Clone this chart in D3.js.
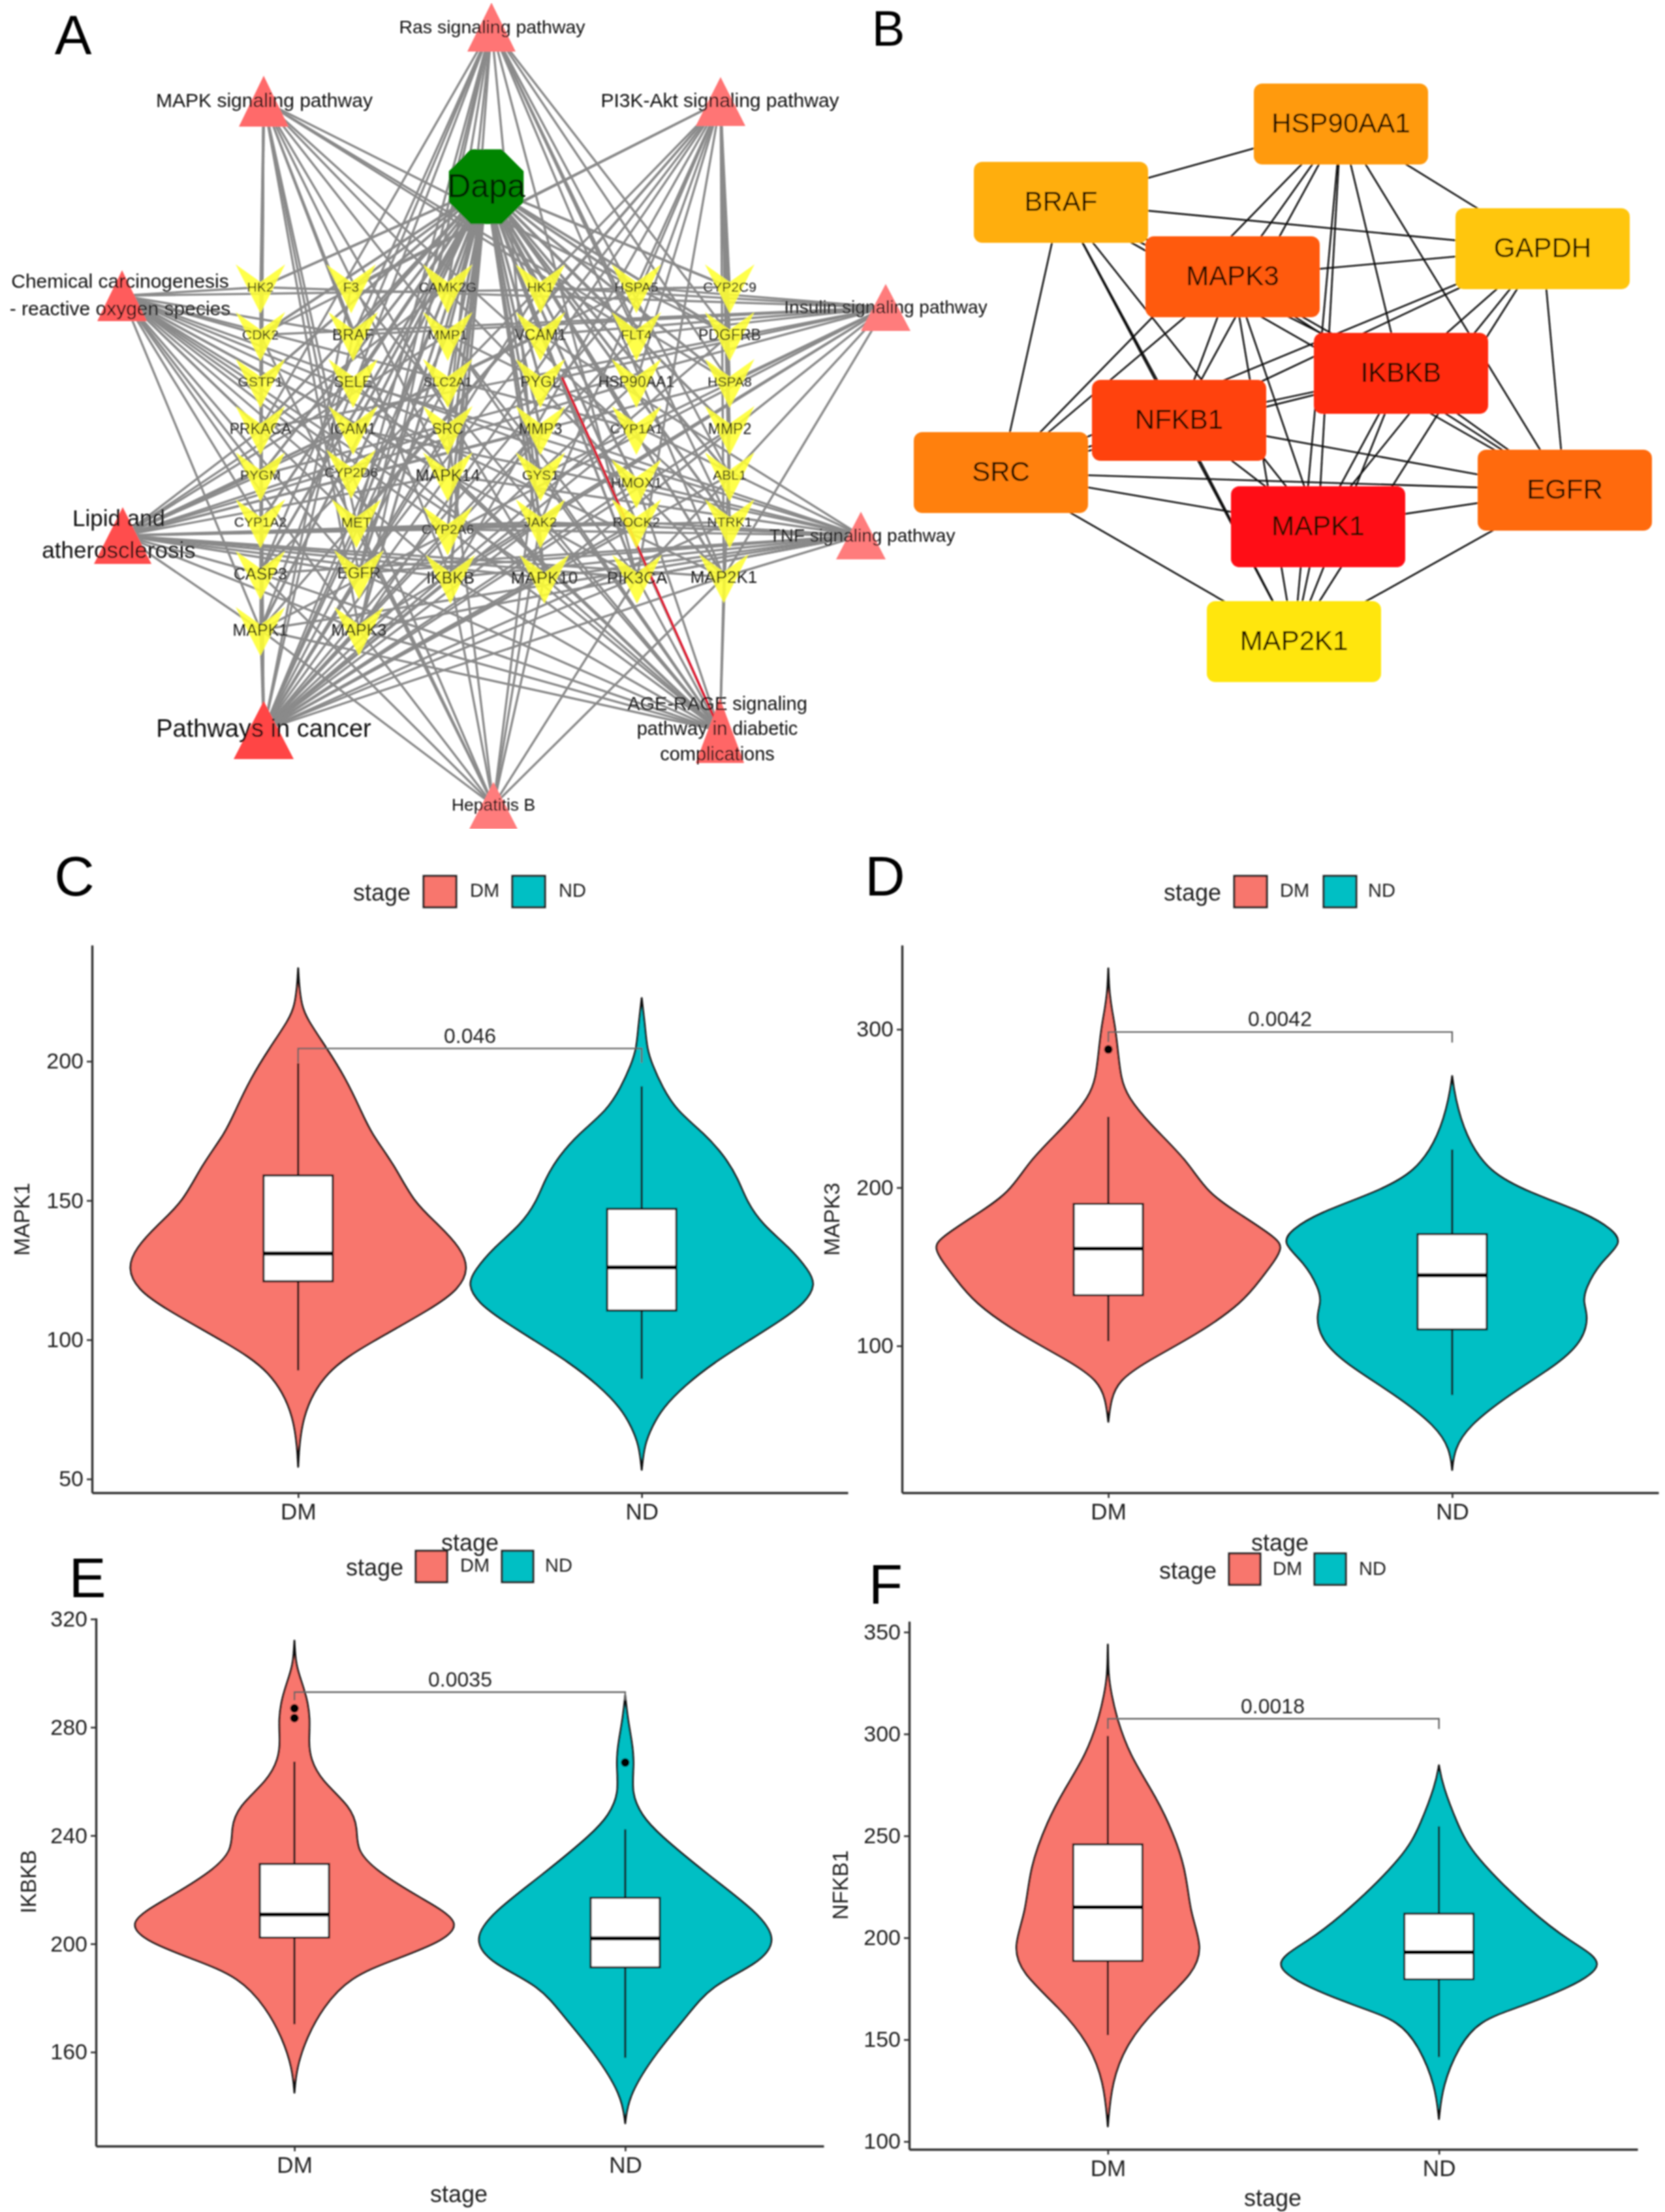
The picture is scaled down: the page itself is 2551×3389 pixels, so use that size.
<!DOCTYPE html>
<html><head><meta charset="utf-8">
<script src="https://cdn.jsdelivr.net/npm/d3@7"></script>
<style>html,body{margin:0;background:#fff}svg{display:block}text{font-family:"Liberation Sans",Arial,sans-serif}</style>
</head><body><div id="c"></div>
<script>
// ---------- DATA: panel A ----------
const geneNames = ["HK2","CDK2","GSTP1","PRKACA","PYGM","CYP1A2","CASP3","MAPK1",
  "F3","BRAF","SELE","ICAM1","CYP2D6","MET","EGFR","MAPK3",
  "CAMK2G","MMP1","SLC2A1","SRC","MAPK14","CYP2A6","IKBKB",
  "HK1","VCAM1","PYGL","MMP3","GYS1","JAK2","MAPK10",
  "HSPA5","FLT4","HSP90AA1","CYP1A1","HMOX1","ROCK2","PIK3CA",
  "CYP2C9","PDGFRB","HSPA8","MMP2","ABL1","NTRK1","MAP2K1"];
const pathwayNames = ["Ras","MAPK","PI3K","Chem","Insulin","Lipid","TNF","Cancer","Hepatitis","AGE"];
const pathwayLabels = [["Ras signaling pathway"],["MAPK signaling pathway"],["PI3K-Akt signaling pathway"],
  ["Chemical carcinogenesis","- reactive oxygen species"],["Insulin signaling pathway"],["Lipid and","atherosclerosis"],
  ["TNF signaling pathway"],["Pathways in cancer"],["Hepatitis B"],["AGE-RAGE signaling","pathway in diabetic","complications"]];
const rasGenes = ["MAPK1","MAPK3","EGFR","IKBKB","MAPK10","PIK3CA","MAP2K1","MET","PDGFRB","FLT4","NTRK1","BRAF","ABL1","PRKACA","CAMK2G","HSPA8","SRC","CASP3"];
const mapkGenes = ["MAPK1","MAPK3","EGFR","IKBKB","MAPK10","MAP2K1","CASP3","MET","PDGFRB","FLT4","NTRK1","BRAF","MAPK14","PRKACA","HSPA8","CDK2","GSTP1","HK2","PYGM","CYP1A2","PIK3CA"];
const pi3kGenes = ["MAPK1","MAPK3","EGFR","IKBKB","PIK3CA","MAP2K1","CASP3","JAK2","MET","PDGFRB","FLT4","NTRK1","HSP90AA1","CDK2","F3","HSPA5","CYP2C9","HSPA8","MMP2","ABL1"];
const chemGenes = ["MAPK1","MAPK3","EGFR","IKBKB","MAPK10","MAPK14","PIK3CA","MAP2K1","SRC","HMOX1","GSTP1","CYP1A1","CYP1A2","CYP2D6","CYP2A6","CYP2C9","BRAF","MET","HK2","CDK2","PRKACA","PYGM"];
const insulinGenes = ["MAPK1","MAPK3","IKBKB","MAPK10","PIK3CA","MAP2K1","BRAF","PRKACA","PYGL","PYGM","GYS1","HK1","HK2","HSPA5","FLT4","VCAM1","CDK2","HSPA8"];
const lipidGenes = ["MAPK1","MAPK3","IKBKB","MAPK10","MAPK14","PIK3CA","CASP3","JAK2","HSP90AA1","HSPA5","HSPA8","ICAM1","VCAM1","SELE","SRC","MMP3","MMP1","CAMK2G","ROCK2","MAP2K1","PYGM","CYP2A6","NTRK1","EGFR"];
const tnfGenes = ["MAPK1","MAPK3","IKBKB","MAPK10","MAPK14","PIK3CA","MAP2K1","CASP3","ICAM1","VCAM1","SELE","MMP3","JAK2","MMP1","EGFR","ROCK2","HMOX1","CYP2A6"];
const cancerGenes = ["MAPK1","MAPK3","EGFR","IKBKB","MAPK10","PIK3CA","MAP2K1","CASP3","JAK2","ROCK2","HMOX1","ABL1","MET","MAPK14","HSP90AA1","BRAF","CDK2","GSTP1","PRKACA","MMP1","MMP2","F3","PDGFRB","NTRK1","FLT4","CAMK2G","SLC2A1","HK2","HK1","SRC","HSPA5","MMP3","CYP1A1"];
const hepatitisGenes = ["MAPK1","MAPK3","IKBKB","MAPK10","PIK3CA","MAP2K1","CASP3","JAK2","SRC","CDK2","MMP3","CYP2D6","MET"];
const ageGenes = ["MAPK1","MAPK3","MAPK10","MAPK14","PIK3CA","CASP3","JAK2","ICAM1","VCAM1","SELE","F3","MMP2","IKBKB","HMOX1","MAP2K1","GYS1","MMP1","CYP2A6","EGFR"];
const pathwayGenes = [rasGenes,mapkGenes,pi3kGenes,chemGenes,insulinGenes,lipidGenes,tnfGenes,cancerGenes,hepatitisGenes,ageGenes];
const redEdgeEnd = "AGE";

// ---------- DATA: panel B ----------
const hubNames = ["HSP90AA1","BRAF","GAPDH","MAPK3","IKBKB","NFKB1","SRC","EGFR","MAPK1","MAP2K1"];
const hubEdges = [["HSP90AA1","BRAF"],["HSP90AA1","GAPDH"],["HSP90AA1","MAPK3"],["HSP90AA1","IKBKB"],["HSP90AA1","NFKB1"],["HSP90AA1","SRC"],["HSP90AA1","EGFR"],["HSP90AA1","MAPK1"],["HSP90AA1","MAP2K1"],
 ["BRAF","GAPDH"],["BRAF","MAPK3"],["BRAF","IKBKB"],["BRAF","NFKB1"],["BRAF","SRC"],["BRAF","EGFR"],["BRAF","MAPK1"],["BRAF","MAP2K1"],
 ["GAPDH","MAPK3"],["GAPDH","IKBKB"],["GAPDH","NFKB1"],["GAPDH","SRC"],["GAPDH","EGFR"],["GAPDH","MAPK1"],["GAPDH","MAP2K1"],
 ["MAPK3","IKBKB"],["MAPK3","NFKB1"],["MAPK3","SRC"],["MAPK3","EGFR"],["MAPK3","MAPK1"],["MAPK3","MAP2K1"],
 ["IKBKB","NFKB1"],["IKBKB","SRC"],["IKBKB","EGFR"],["IKBKB","MAPK1"],["IKBKB","MAP2K1"],
 ["NFKB1","SRC"],["NFKB1","EGFR"],["NFKB1","MAPK1"],["NFKB1","MAP2K1"],
 ["SRC","EGFR"],["SRC","MAPK1"],["SRC","MAP2K1"],["EGFR","MAPK1"],["EGFR","MAP2K1"],["MAPK1","MAP2K1"]];

// ---------- DATA: violins, [value, relative width] ----------
const groups = ["DM","ND"];
const mapk1DM = [[233.4,0],[226.8,.006],[220.2,.02],[215.3,.05],[204.6,.17],[193.9,.28],[182.4,.37],[174.2,.43],[162.7,.57],[149.5,.68],[141.3,.83],[133,.96],[125.6,1.01],[118.2,.95],[111.6,.8],[98.8,.42],[89,.16],[72.6,.016],[54.4,0]];
const mapk1ND = [[222.7,0],[212,.02],[204.6,.03],[198.8,.06],[190.6,.12],[182.4,.2],[174.2,.36],[166,.48],[157.7,.56],[149.5,.61],[141.3,.7],[133,.86],[124.8,.97],[119.9,1.01],[113.3,.95],[106.7,.8],[100.1,.63],[91.9,.42],[83.7,.25],[75.5,.12],[68.9,.06],[62.3,.015],[53.3,0]];
const mapk3DM = [[338.5,0],[324,.005],[312.4,.02],[300.9,.04],[286.4,.055],[269,.072],[257.5,.11],[240,.24],[217,.46],[196.7,.57],[182,.78],[167.7,.98],[162,1.01],[153,.96],[144.6,.9],[127.2,.78],[107,.51],[89.6,.21],[78,.06],[66.5,.015],[52,0]];
const mapk3ND = [[270.5,0],[257.5,.015],[232.9,.075],[209.7,.21],[196.7,.45],[183.7,.78],[173.5,.93],[164.9,.99],[153.3,.86],[135.9,.77],[127.2,.76],[118.5,.79],[104,.76],[89.6,.63],[69.3,.33],[49.1,.09],[34.6,.012],[21.6,0]];
const ikbkbDM = [[312,0],[303.9,.007],[299,.03],[291,.075],[282.9,.095],[274.8,.085],[268.4,.095],[260.3,.16],[250.6,.34],[242.6,.38],[234.5,.37],[226.5,.5],[216.8,.76],[207.9,1.02],[200.6,.88],[194.2,.6],[187.7,.33],[176.5,.17],[165,.07],[154,.012],[145,0]];
const ikbkbND = [[291.8,0],[282.9,.015],[274.8,.04],[266.8,.055],[255.5,.035],[247.4,.1],[241,.19],[224.8,.51],[211.9,.79],[201.5,.92],[192.6,.8],[184.5,.51],[173.2,.37],[160.3,.19],[144.2,.02],[133.7,0]];
const nfkb1DM = [[343.9,0],[328.5,.003],[319.9,.02],[307,.055],[289.9,.13],[272.8,.26],[257.8,.36],[234.2,.47],[212.8,.49],[195.7,.57],[182.8,.52],[165.7,.29],[148.6,.115],[129.3,.022],[107.4,0]];
const nfkb1ND = [[284.6,0],[275,.02],[255.7,.11],[240.7,.2],[212.8,.55],[197.8,.79],[187.1,1.03],[175.3,.78],[165.7,.47],[159.3,.24],[146.4,.115],[127.1,.02],[111,0]];
// boxes: [lower whisker, Q1, median, Q3, upper whisker]
const mapk1Box = [[89,121,131,159,199.3],[86,110.5,126,147,191]];
const mapk3Box = [[103,132,161.4,189.7,244.7],[69,110.4,144.6,170.6,224]];
const ikbkbBox = [[170.3,202.3,210.8,229.5,267.3],[157.9,191.3,202,217,242.3]];
const nfkb1Box = [[152.2,188.6,215,245.8,299],[141.5,179.6,192.9,211.8,254.6]];
const mapk3Outliers = [[287.3],[]];
const ikbkbOutliers = [[287,283.4],[267]];
const noOutliers = [[],[]];
const mapk1Ticks = [50,100,150,200];
const mapk3Ticks = [100,200,300];
const ikbkbTicks = [160,200,240,280,320];
const nfkb1Ticks = [100,150,200,250,300,350];

// ---------- LAYOUT ----------
const W=2551,H=3389;
const svg0=d3.select("#c").append("svg").attr("width",W).attr("height",H).attr("viewBox",`0 0 ${W} ${H}`);
svg0.append("rect").attr("width",W).attr("height",H).attr("fill","#fff");
const defs=svg0.append("defs");
defs.append("filter").attr("id","soft").append("feGaussianBlur").attr("stdDeviation",.8);
defs.append("filter").attr("id","softA").attr("x",0).attr("y",0).attr("width",1).attr("height",1).append("feGaussianBlur").attr("stdDeviation",1.2);
const svg=svg0.append("g").attr("filter","url(#soft)");
const ink="#111";
function txt(g,x,y,s,size,opt={}){
  return g.append("text").attr("x",x).attr("y",y).attr("dy",".35em").attr("text-anchor",opt.anchor||"middle")
    .attr("font-size",size).attr("fill",opt.fill||ink).text(s);
}
[["A",112,53,85],["B",1361,43,76],["C",114,1342,85],["D",1356,1342,85],["E",134,2417,85],["F",1357,2427,85]]
 .forEach(l=>txt(svg,l[1],l[2],l[0],l[3],{fill:"#000"}));

// Panel A layout
const geneX=[399,399,399,399,399,399,399,399, 538,541,541,541,538,546,550,550, 686,686,686,686,686,686,690, 828,828,828,828,828,828,834, 975,975,975,975,975,975,976, 1118,1118,1118,1118,1118,1118,1109];
const geneY=[440,513,585,657,728,800,879,965, 440,513,585,657,724,800,878,965, 440,513,585,657,728,811,885, 440,513,585,657,728,800,885, 440,513,585,657,739,800,885, 440,513,585,657,728,800,884];
const geneFont=[21,21,21,23,21,21,25,25, 21,24,23,23,21,22,24,25, 21,21,20,23,25,21,25, 21,23,23,23,21,21,26, 21,21,23,21,22,21,26, 21,23,21,23,21,21,26];
const pathX=[753,404,1104,187,1357,188,1319,404,756,1103];
const pathTop=[4,116,118,414,435,777,784,1074,1198,1070];
const pathBase=[79,194,193,492,507,864,857,1163,1270,1169];
const pathHalf=[37,38,38,38,38,44,38,46,37,37];
const pathFill=["#FF7474","#FF6B6B","#FF7474","#FF5C5C","#FF7B7B","#FF4D4D","#FF7B7B","#FF4444","#FF7B7B","#FF6666"];
const labelX=[754,405,1103,184,1357,182,1321,404,756,1099];
const labelY=[[41],[153],[153],[430,472],[470],[794,843],[820],[1116],[1233],[1078,1116,1155]];
const labelFont=[28.5,30,30,30,28,35,28,38,26.5,29];
const dapa={x:745,y:286,r:62};
const redEdgeStart=[861,578];
const gA=svg0.append("g").attr("filter","url(#softA)");
const gpos=new Map(geneNames.map((n,i)=>[n,[geneX[i],geneY[i]]]));
const ppos=new Map(pathwayNames.map((n,i)=>[n,[pathX[i],(pathTop[i]+pathBase[i])/2]]));
const edgeA=gA.append("g").attr("stroke","#8a8a8a").attr("stroke-width",3.4).attr("fill","none");
const segLine=d3.line();
geneNames.forEach(n=>edgeA.append("path").attr("d",segLine([[dapa.x,dapa.y],gpos.get(n)])).attr("stroke-width",4));
pathwayGenes.forEach((list,i)=>list.forEach(n=>{
  if(!gpos.has(n))return;
  edgeA.append("path").attr("d",segLine([ppos.get(pathwayNames[i]),gpos.get(n)]));
}));
gA.append("path").attr("d",segLine([redEdgeStart,ppos.get(redEdgeEnd)])).attr("stroke","#E0102A").attr("stroke-width",3.4).attr("fill","none");
const chevron=[[-38,-35],[0,-8],[38,-35],[0,40]];
geneNames.forEach((n,i)=>{
  gA.append("path").attr("d",d3.line()(chevron.map(p=>[p[0]+geneX[i],p[1]+geneY[i]]))+"Z").attr("fill","#FFFF33").attr("fill-opacity",.88);
});
pathwayNames.forEach((n,i)=>{
  gA.append("path").attr("d",d3.line()([[pathX[i],pathTop[i]],[pathX[i]+pathHalf[i],pathBase[i]],[pathX[i]-pathHalf[i],pathBase[i]]])+"Z").attr("fill",pathFill[i]);
});
const octa=d3.range(8).map(k=>{const a=Math.PI/8+k*Math.PI/4;return [dapa.x+dapa.r*Math.cos(a),dapa.y+dapa.r*Math.sin(a)];});
gA.append("path").attr("d",d3.line()(octa)+"Z").attr("fill","#008500");
txt(gA,dapa.x,dapa.y-2,"Dapa",50,{fill:"#062206"});
geneNames.forEach((n,i)=>txt(gA,geneX[i],geneY[i],n,geneFont[i]));
pathwayLabels.forEach((ls,i)=>ls.forEach((s,k)=>txt(gA,labelX[i],labelY[i][k],s,labelFont[i])));

// Panel B layout
const hubL=[1921,1492,2230,1755,2013,1673,1400,2264,1886,1849];
const hubT=[128,248,319,362,510,582,662,689,745,921];
const hubW=267,hubH=124;
const hubFill=["#FF9A0A","#FFAE0A","#FFC60A","#FF5A0A","#FF2A10","#FF4210","#FF800A","#FF6A0A","#FF0812","#FFE60A"];
const gB=svg.append("g");
const hpos=new Map(hubNames.map((n,i)=>[n,[hubL[i]+hubW/2,hubT[i]+hubH/2]]));
hubEdges.forEach(e=>gB.append("path").attr("d",segLine([hpos.get(e[0]),hpos.get(e[1])])).attr("stroke","#111").attr("stroke-width",2.6).attr("fill","none"));
hubNames.forEach((n,i)=>{
  gB.append("rect").attr("x",hubL[i]).attr("y",hubT[i]).attr("width",hubW).attr("height",hubH).attr("rx",13).attr("fill",hubFill[i]);
  txt(gB,hubL[i]+hubW/2,hubT[i]+hubH/2-2,n,42,{fill:"#1a0a00"});
});

// Violin panels
const panels=[
 {name:"MAPK1",dens:[mapk1DM,mapk1ND],box:mapk1Box,out:noOutliers,ticks:mapk1Ticks,ref:[200,1626,50,2266],L:141,R:1299,T:1448,B:2287,half:[259,264],
  brY:204.6,tipL:199.5,tipR:199.5,p:"0.046",pX:720,pY:1587,ylX:33,ylY:1868,
  leg:{rD:649,rN:785,rW:50,rT:1342,rH:48,tD:720,tN:856,tY:1366,stC:585},xLabY:2317,xTitle:{x:720,y:2363}},
 {name:"MAPK3",dens:[mapk3DM,mapk3ND],box:mapk3Box,out:mapk3Outliers,ticks:mapk3Ticks,ref:[300,1577,100,2062],L:1382,R:2541,T:1448,B:2287,half:[264,264],
  brY:298.3,tipL:292,tipR:291.6,p:"0.0042",pX:1961,pY:1561,ylX:1274,ylY:1868,
  leg:{rD:1891,rN:2028,rW:50,rT:1342,rH:48,tD:1961,tN:2096,tY:1366,stC:1827},xLabY:2317,xTitle:{x:1961,y:2363}},
 {name:"IKBKB",dens:[ikbkbDM,ikbkbND],box:ikbkbBox,out:ikbkbOutliers,ticks:ikbkbTicks,ref:[320,2480.5,160,3144],L:147,R:1262,T:2479,B:3288,half:[255,255],
  brY:293,tipL:290,tipR:290,p:"0.0035",pX:705,pY:2573,ylX:43,ylY:2883,
  leg:{rD:637,rN:769,rW:48,rT:2376,rH:48,tD:705,tN:835,tY:2400,stC:574},xLabY:3318,xTitle:{x:703,y:3361}},
 {name:"NFKB1",dens:[nfkb1DM,nfkb1ND],box:nfkb1Box,out:noOutliers,ticks:nfkb1Ticks,ref:[350,2500.5,100,3281],L:1393,R:2509,T:2484,B:3293,half:[255,255],
  brY:307.5,tipL:302.4,tipR:302.4,p:"0.0018",pX:1950,pY:2614,ylX:1287,ylY:2888,
  leg:{rD:1883,rN:2014,rW:48,rT:2380,rH:48,tD:1950,tN:2082,tY:2405,stC:1820},xLabY:3323,xTitle:{x:1950,y:3367}}
];
const fillC=d3.scaleOrdinal().domain(groups).range(["#F8766D","#00BFC4"]);
panels.forEach(P=>{
  const g=svg.append("g");
  const x=d3.scalePoint().domain(groups).range([P.L,P.R]).padding(.6);
  const y0=d3.scaleLinear().domain([P.ref[0],P.ref[2]]).range([P.ref[1],P.ref[3]]);
  const y=d3.scaleLinear().domain([y0.invert(P.B),y0.invert(P.T)]).range([P.B,P.T]);
  const ln=d3.line().curve(d3.curveBasis);
  groups.forEach((gr,i)=>{
    const cx=x(gr),hw=P.half[i],D=P.dens[i];
    const right=D.map(d=>[cx+d[1]*hw,y(d[0])]);
    const left=D.map(d=>[cx-d[1]*hw,y(d[0])]).reverse();
    g.append("path").attr("d",ln(right)+"L"+ln(left).slice(1)+"Z").attr("fill",fillC(gr)).attr("stroke","#111").attr("stroke-width",2.8).attr("stroke-linejoin","round");
    const [lo,q1,med,q3,hi]=P.box[i];
    g.append("line").attr("x1",cx).attr("x2",cx).attr("y1",y(lo)).attr("y2",y(hi)).attr("stroke","#111").attr("stroke-width",3);
    g.append("rect").attr("x",cx-53).attr("width",106).attr("y",y(q3)).attr("height",y(q1)-y(q3)).attr("fill","#fff").attr("stroke","#111").attr("stroke-width",3);
    g.append("line").attr("x1",cx-53).attr("x2",cx+53).attr("y1",y(med)).attr("y2",y(med)).attr("stroke","#000").attr("stroke-width",6);
    P.out[i].forEach(v=>g.append("circle").attr("cx",cx).attr("cy",y(v)).attr("r",6.5).attr("fill","#000"));
  });
  // significance bracket
  g.append("path").attr("d",d3.line()([[x("DM"),y(P.tipL)],[x("DM"),y(P.brY)],[x("ND"),y(P.brY)],[x("ND"),y(P.tipR)]]))
    .attr("fill","none").attr("stroke","#666").attr("stroke-width",2.4);
  txt(g,P.pX,P.pY,P.p,32,{fill:"#222"});
  // axes
  const ax=g.append("g").attr("transform",`translate(${P.L},0)`).call(d3.axisLeft(y).tickValues(P.ticks).tickSize(8).tickSizeOuter(0));
  const bx=g.append("g").attr("transform",`translate(0,${P.B})`).call(d3.axisBottom(x).tickSize(8).tickSizeOuter(0));
  [ax,bx].forEach(a=>{a.attr("font-family",null);a.selectAll(".domain").attr("stroke","#333").attr("stroke-width",3.4);a.selectAll(".tick line").attr("stroke","#333").attr("stroke-width",2.6);});
  ax.selectAll("text").attr("font-size",34).attr("fill","#222").attr("x",-13);
  bx.selectAll("text").attr("font-size",35).attr("fill","#222").attr("y",16);
  g.append("text").attr("transform",`translate(${P.ylX},${P.ylY}) rotate(-90)`).attr("dy",".35em").attr("text-anchor","middle").attr("font-size",33).attr("fill","#222").text(P.name);
  txt(g,P.xTitle.x,P.xTitle.y,"stage",36,{fill:"#222"});
  // legend
  const Lg=P.leg;
  txt(g,Lg.stC,Lg.tY+1,"stage",36,{fill:"#222"});
  [["DM",Lg.rD,Lg.tD],["ND",Lg.rN,Lg.tN]].forEach(k=>{
    g.append("rect").attr("x",k[1]).attr("y",Lg.rT).attr("width",Lg.rW).attr("height",Lg.rH).attr("fill",fillC(k[0])).attr("stroke","#222").attr("stroke-width",3);
    txt(g,k[2],Lg.tY-2,k[0],29,{anchor:"start",fill:"#222"});
  });
});
</script></body></html>
